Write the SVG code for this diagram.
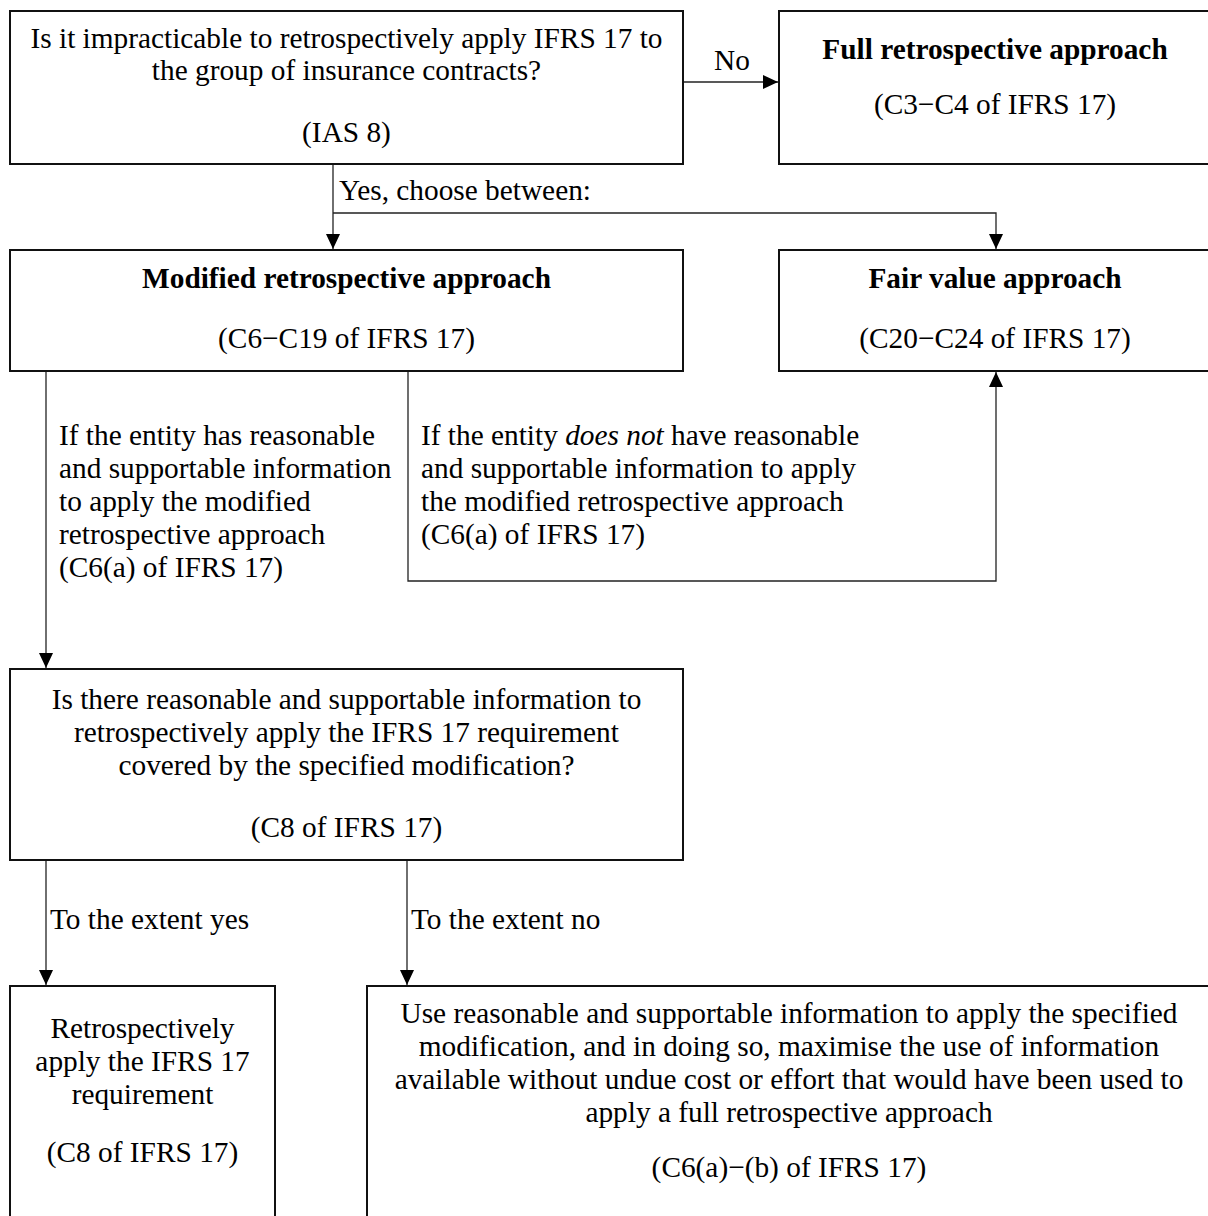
<svg xmlns="http://www.w3.org/2000/svg" width="1208" height="1216" viewBox="0 0 1208 1216">
<style>
  text { font-family: "Liberation Serif", "Times New Roman", serif; font-size: 29.33px; fill: #000; }
  .c { text-anchor: middle; }
  .b { font-weight: bold; }
  .box { fill: #fff; stroke: #111; stroke-width: 2; }
  .ln { fill: none; stroke: #222; stroke-width: 1.3; }
</style>
<defs>
  <marker id="arr" markerUnits="userSpaceOnUse" markerWidth="15" markerHeight="14" refX="15" refY="7" orient="auto">
    <path d="M0,0 L15,7 L0,14 Z" fill="#000"/>
  </marker>
</defs>
<rect width="1208" height="1216" fill="#fff"/>

<g id="connectors">
  <path class="ln" d="M683,82 H778" marker-end="url(#arr)"/>
  <path class="ln" d="M333,164 V249" marker-end="url(#arr)"/>
  <path class="ln" d="M333,213 H996 V249" marker-end="url(#arr)"/>
  <path class="ln" d="M46,371 V668" marker-end="url(#arr)"/>
  <path class="ln" d="M408,371 V581 H996 V372" marker-end="url(#arr)"/>
  <path class="ln" d="M46,860 V985" marker-end="url(#arr)"/>
  <path class="ln" d="M407,860 V985" marker-end="url(#arr)"/>
  <text x="732" y="70" class="c">No</text>
  <text x="339" y="200">Yes, choose between:</text>
  <text x="59" y="445">If the entity has reasonable</text>
  <text x="59" y="478">and supportable information</text>
  <text x="59" y="511">to apply the modified</text>
  <text x="59" y="544">retrospective approach</text>
  <text x="59" y="577">(C6(a) of IFRS 17)</text>
  <text x="421" y="445">If the entity <tspan font-style="italic">does not</tspan> have reasonable</text>
  <text x="421" y="478">and supportable information to apply</text>
  <text x="421" y="511">the modified retrospective approach</text>
  <text x="421" y="544">(C6(a) of IFRS 17)</text>
  <text x="50" y="929">To the extent yes</text>
  <text x="411" y="929">To the extent no</text>
</g>

<g id="q1">
  <rect class="box" x="10" y="11" width="673" height="153"/>
  <text x="346.5" y="48" class="c">Is it impracticable to retrospectively apply IFRS 17 to</text>
  <text x="346.5" y="80" class="c">the group of insurance contracts?</text>
  <text x="346.5" y="142" class="c">(IAS 8)</text>
</g>

<g id="full">
  <rect class="box" x="779" y="11" width="440" height="153"/>
  <text x="995" y="59" class="c b">Full retrospective approach</text>
  <text x="995" y="114" class="c">(C3−C4 of IFRS 17)</text>
</g>

<g id="modified">
  <rect class="box" x="10" y="250" width="673" height="121"/>
  <text x="346.5" y="288" class="c b">Modified retrospective approach</text>
  <text x="346.5" y="348" class="c">(C6−C19 of IFRS 17)</text>
</g>

<g id="fair">
  <rect class="box" x="779" y="250" width="440" height="121"/>
  <text x="995" y="288" class="c b">Fair value approach</text>
  <text x="995" y="348" class="c">(C20−C24 of IFRS 17)</text>
</g>

<g id="q2">
  <rect class="box" x="10" y="669" width="673" height="191"/>
  <text x="346.5" y="709" class="c">Is there reasonable and supportable information to</text>
  <text x="346.5" y="742" class="c">retrospectively apply the IFRS 17 requirement</text>
  <text x="346.5" y="775" class="c">covered by the specified modification?</text>
  <text x="346.5" y="837" class="c">(C8 of IFRS 17)</text>
</g>

<g id="yes-box">
  <rect class="box" x="10" y="986" width="265" height="240"/>
  <text x="142.5" y="1038" class="c">Retrospectively</text>
  <text x="142.5" y="1071" class="c">apply the IFRS 17</text>
  <text x="142.5" y="1104" class="c">requirement</text>
  <text x="142.5" y="1162" class="c">(C8 of IFRS 17)</text>
</g>

<g id="no-box">
  <rect class="box" x="367" y="986" width="852" height="240"/>
  <text x="789" y="1023" class="c">Use reasonable and supportable information to apply the specified</text>
  <text x="789" y="1056" class="c">modification, and in doing so, maximise the use of information</text>
  <text x="789" y="1089" class="c">available without undue cost or effort that would have been used to</text>
  <text x="789" y="1122" class="c">apply a full retrospective approach</text>
  <text x="789" y="1177" class="c">(C6(a)−(b) of IFRS 17)</text>
</g>
</svg>
